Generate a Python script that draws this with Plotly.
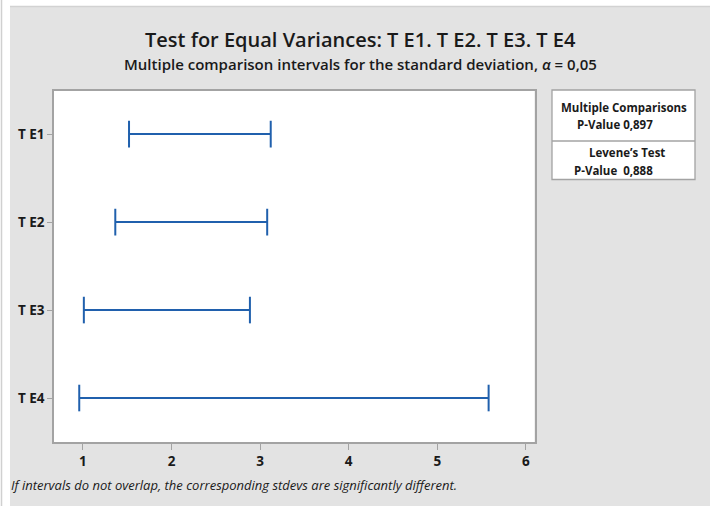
import plotly.graph_objects as go

# Interval data: lower / upper bounds of the multiple-comparison intervals
groups = ["T E1", "T E2", "T E3", "T E4"]
lower = [1.52, 1.365, 1.01, 0.958]
upper = [3.12, 3.08, 2.885, 5.58]

x_ticks = [1, 2, 3, 4, 5, 6]
mc_pvalue = "0,897"
levene_pvalue = "0,888"

W, H = 717, 506
FONT = "Open Sans"
BLUE = "#2060ad"
GRID = "#a3a3a3"
INK = "#1a1a1a"


def px(x):
    return x / W


def py(y):
    return 1 - y / H


fig = go.Figure()

for i, g in enumerate(groups):
    fig.add_trace(go.Scatter(
        x=[lower[i], upper[i]], y=[i, i],
        mode="lines+markers",
        line=dict(color=BLUE, width=2),
        marker=dict(symbol="line-ns", size=19,
                    line=dict(color=BLUE, width=2)),
        showlegend=False, hoverinfo="skip",
    ))

shapes = [
    # outer gray panel
    dict(type="rect", xref="paper", yref="paper", layer="below",
         x0=px(10), x1=px(710), y0=py(506), y1=py(6),
         fillcolor="#e3e3e3", line=dict(width=0)),
    dict(type="line", xref="paper", yref="paper", layer="below",
         x0=px(10), x1=px(710), y0=py(6.5), y1=py(6.5),
         line=dict(color="#d2d2d2", width=1.5)),
    dict(type="line", xref="paper", yref="paper", layer="below",
         x0=px(1.5), x1=px(1.5), y0=py(506), y1=py(0),
         line=dict(color="#d0d0d0", width=1.5)),
    # plot area
    dict(type="rect", xref="paper", yref="paper", layer="below",
         x0=px(54), x1=px(534.5), y0=py(442), y1=py(91),
         fillcolor="white", line=dict(width=0)),
    # statistics box
    dict(type="rect", xref="paper", yref="paper", layer="below",
         x0=px(552), x1=px(695), y0=py(179.5), y1=py(90),
         fillcolor="white", line=dict(color=GRID, width=1.3)),
    dict(type="line", xref="paper", yref="paper", layer="below",
         x0=px(552), x1=px(695), y0=py(141), y1=py(141),
         line=dict(color=GRID, width=1.3)),
]

box_font = dict(family=FONT, size=11.5, color=INK, weight=700)

annotations = [
    dict(text="Test for Equal Variances: T E1. T E2. T E3. T E4",
         x=px(360), y=py(40), xref="paper", yref="paper", showarrow=False,
         xanchor="center", yanchor="middle",
         font=dict(family=FONT, size=20, color=INK, weight=600)),
    dict(text="Multiple comparison intervals for the standard deviation, <i>α</i> = 0,05",
         x=px(360), y=py(64), xref="paper", yref="paper", showarrow=False,
         xanchor="center", yanchor="middle",
         font=dict(family=FONT, size=15, color=INK, weight=600)),
    dict(text="<i>If intervals do not overlap, the corresponding stdevs are significantly different.</i>",
         x=px(9), y=py(485), xref="paper", yref="paper", showarrow=False,
         xanchor="left", yanchor="middle",
         font=dict(family=FONT, size=13, color=INK)),
    dict(text="Multiple Comparisons", x=px(623.5), y=py(107),
         xref="paper", yref="paper", showarrow=False,
         xanchor="center", yanchor="middle", font=box_font),
    dict(text="P-Value " + mc_pvalue, x=px(614.5), y=py(124),
         xref="paper", yref="paper", showarrow=False,
         xanchor="center", yanchor="middle", font=box_font),
    dict(text="Levene’s Test", x=px(627), y=py(152),
         xref="paper", yref="paper", showarrow=False,
         xanchor="center", yanchor="middle", font=box_font),
    dict(text="P-Value  " + levene_pvalue, x=px(613.5), y=py(170),
         xref="paper", yref="paper", showarrow=False,
         xanchor="center", yanchor="middle", font=box_font),
]

tick_font = dict(family=FONT, size=13.5, color=INK, weight=700)

fig.update_layout(
    width=W, height=H,
    margin=dict(l=0, r=0, t=0, b=0),
    paper_bgcolor="white",
    plot_bgcolor="rgba(0,0,0,0)",
    shapes=shapes,
    annotations=annotations,
    xaxis=dict(
        domain=[px(54), px(534.5)],
        range=[0.673, 6.098],
        tickvals=x_ticks, ticktext=[str(t) for t in x_ticks],
        ticks="outside", ticklen=6, tickcolor=GRID, tickwidth=1.3,
        ticklabelstandoff=0,
        showline=True, mirror=True, linecolor=GRID, linewidth=1.5,
        showgrid=False, zeroline=False,
        tickfont=tick_font,
    ),
    yaxis=dict(
        domain=[py(442), py(91)],
        range=[3.5, -0.49],
        tickvals=list(range(len(groups))), ticktext=groups,
        ticks="outside", ticklen=5, tickcolor=GRID, tickwidth=1.3,
        showline=True, mirror=True, linecolor=GRID, linewidth=1.5,
        showgrid=False, zeroline=False,
        tickfont=tick_font,
    ),
)

fig.write_html("out.html")
